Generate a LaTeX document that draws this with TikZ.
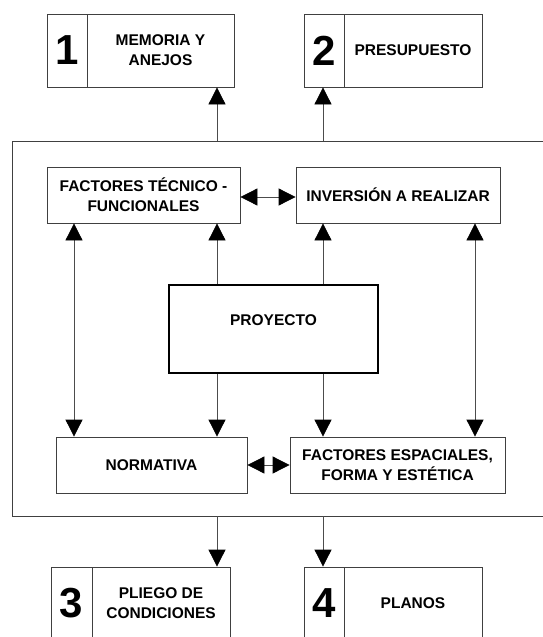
\documentclass[tikz,border=0pt]{standalone}
\usepackage{fontspec}
\setmainfont{Liberation Sans}
\usetikzlibrary{calc,arrows.meta}
\tikzset{
    caja/.style= {shape=rectangle,draw=black!75,line width=0.8pt,inner sep=0,align=center,font=\fontsize{15.5}{20}\selectfont\bfseries},
    numcaja/.style= {caja,font=\fontsize{42}{42}\selectfont\bfseries},
    punta/.tip= {Triangle[length=17pt,width=17pt,color=black]},
    flecha/.style= {draw=black!70,line width=0.8pt,-punta},
    dflecha/.style= {draw=black!70,line width=0.8pt,punta-punta}
}

\begin{document}
\begin{tikzpicture}[x=1pt,y=-1pt]
    \useasboundingbox (0,0) rectangle (543,637);
    \node[numcaja,minimum width=40,minimum height=73] (n1) at (67,50.5) {1};
    \node[caja,minimum width=147,minimum height=73] (t1) at (160.5,50.5) {MEMORIA Y\\ANEJOS};
    \node[numcaja,minimum width=40,minimum height=73] (n2) at (324,50.5) {2};
    \node[caja,minimum width=138,minimum height=73] (t2) at (413,50.5) {PRESUPUESTO};

    \node[caja,minimum width=548,minimum height=375] (marco) at (286,328.5) {};

    \node[caja,minimum width=193,minimum height=56] (ftf) at (143.5,195) {FACTORES TÉCNICO -\\FUNCIONALES};
    \node[caja,minimum width=204,minimum height=56] (inv) at (398,195) {INVERSIÓN A REALIZAR};
    \node[caja,draw=black,line width=2.5pt,minimum width=209,minimum height=88,text depth=18pt] (proy) at (273.5,329) {PROYECTO};
    \node[caja,minimum width=191,minimum height=56] (norm) at (151.5,465) {NORMATIVA};
    \node[caja,minimum width=215,minimum height=56] (fe) at (397.5,465) {FACTORES ESPACIALES,\\FORMA Y ESTÉTICA};

    \node[numcaja,minimum width=41,minimum height=73] (n3) at (71.5,603.5) {3};
    \node[caja,minimum width=138,minimum height=73] (t3) at (161,603.5) {PLIEGO DE\\CONDICIONES};
    \node[numcaja,minimum width=40,minimum height=73] (n4) at (324,603.5) {4};
    \node[caja,minimum width=138,minimum height=73] (t4) at (413,603.5) {PLANOS};

    \coordinate (c1) at (74,0);
    \coordinate (c2) at (217,0);
    \coordinate (c3) at (323,0);
    \coordinate (c4) at (475,0);

    \draw[flecha] (marco.north -| c2) -- (t1.south -| c2);
    \draw[flecha] (marco.north -| c3) -- (n2.south -| c3);
    \draw[dflecha] ($(ftf.east)+(0,2)$) -- ($(inv.west)+(0,2)$);
    \draw[dflecha] (ftf.south -| c1) -- (norm.north -| c1);
    \draw[flecha] (proy.north -| c2) -- (ftf.south -| c2);
    \draw[flecha] (proy.north -| c3) -- (inv.south -| c3);
    \draw[flecha] (proy.south -| c2) -- (norm.north -| c2);
    \draw[flecha] (proy.south -| c3) -- (fe.north -| c3);
    \draw[dflecha] (inv.south -| c4) -- (fe.north -| c4);
    \draw[dflecha] (norm.east) -- (fe.west);
    \draw[flecha] (marco.south -| c2) -- (t3.north -| c2);
    \draw[flecha] (marco.south -| c3) -- (n4.north -| c3);
\end{tikzpicture}
\end{document}
